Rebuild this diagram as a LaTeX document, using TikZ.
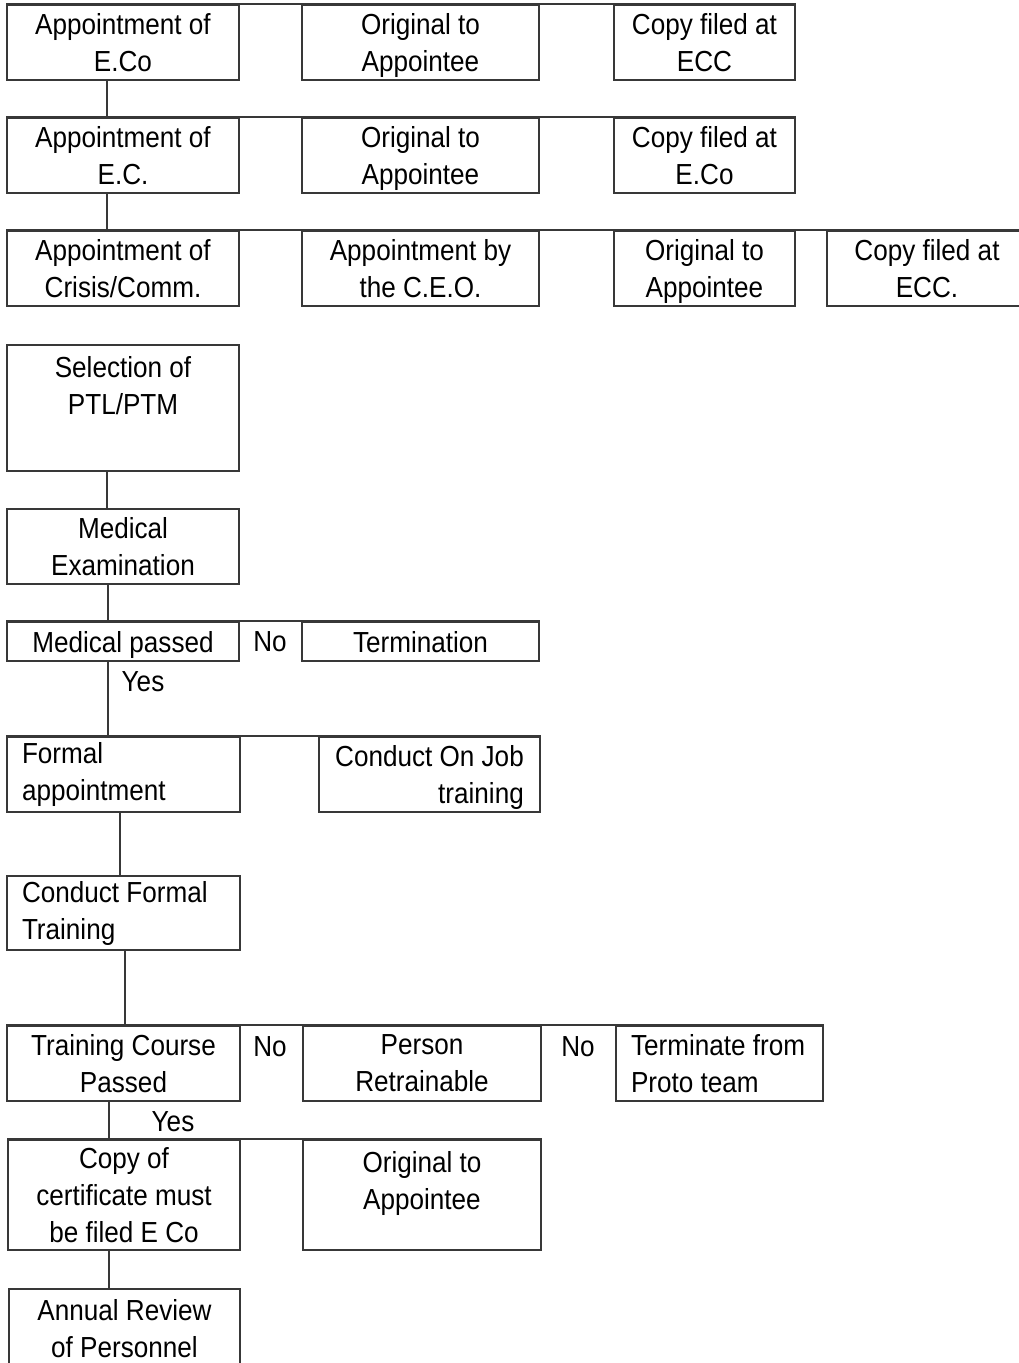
\documentclass[tikz,border=0pt]{standalone}
\usepackage{fontspec}
\setmainfont[FakeStretch=0.9]{Liberation Sans}
\newcommand\diagfont{\fontsize{29}{37}\selectfont}
\begin{document}
\begin{tikzpicture}[x=1pt,y=-1pt,
  box/.style={draw=black!78, line width=1.8pt, inner sep=0pt, align=center, font=\diagfont, text=black, text depth=0pt},
  lbox/.style={box, align=flush left, inner xsep=15pt, text depth=},
  rbox/.style={box, align=flush right},
  conn/.style={draw=black!78, line width=1.8pt},
  lab/.style={inner sep=0pt, font=\diagfont, text=black}]
\fill[white] (0,0) rectangle (1018,1363);
\useasboundingbox (0,0) rectangle (1018,1363);

% Row 1
\node[box, minimum width=232pt, minimum height=75pt] (a1) at (123,42.5) {Appointment of\\E.Co};
\node[box, minimum width=237pt, minimum height=75pt] (a2) at (420.5,42.5) {Original to\\Appointee};
\node[box, minimum width=181pt, minimum height=75pt] (a3) at (704.5,42.5) {Copy filed at\\ECC};
% Row 2
\node[box, minimum width=232pt, minimum height=75pt] (b1) at (123,155.5) {Appointment of\\E.C.};
\node[box, minimum width=237pt, minimum height=75pt] (b2) at (420.5,155.5) {Original to\\Appointee};
\node[box, minimum width=181pt, minimum height=75pt] (b3) at (704.5,155.5) {Copy filed at\\E.Co};
% Row 3
\node[box, minimum width=232pt, minimum height=75pt] (c1) at (123,268.5) {Appointment of\\Crisis/Comm.};
\node[box, minimum width=237pt, minimum height=75pt] (c2) at (420.5,268.5) {Appointment by\\the C.E.O.};
\node[box, minimum width=181pt, minimum height=75pt] (c3) at (704.5,268.5) {Original to\\Appointee};
\node[box, minimum width=200pt, minimum height=75pt] (c4) at (927,268.5) {Copy filed at\\ECC.};

% Selection chain
\node[box, minimum width=232pt, minimum height=126pt] (sel) at (123,408) {Selection of\\PTL/PTM\\[8pt]\mbox{}};
\node[box, minimum width=232pt, minimum height=75pt] (med) at (123,546.5) {Medical\\Examination};
\node[box, minimum width=232pt, minimum height=39pt] (mp) at (123,641.5) {Medical passed};
\node[box, minimum width=237pt, minimum height=39pt] (term) at (420.5,641.5) {Termination};
\node[lab] (no1) at (270,642) {No};
\node[lab] (yes1) at (143,682) {Yes};

\node[lbox, text width=203pt, minimum height=75pt] (fa) at (123.5,774.5) {Formal\\appointment};
\node[rbox, minimum width=221pt, minimum height=75pt] (oj) at (429.5,774.5) {Conduct On Job\\training};
\node[lbox, text width=203pt, minimum height=74pt] (cft) at (123.5,913) {Conduct Formal\\Training};

\node[box, minimum width=233pt, minimum height=75pt] (tcp) at (123.5,1063.5) {Training Course\\Passed};
\node[box, minimum width=238pt, minimum height=75pt] (pr) at (422,1063.5) {Person\\Retrainable};
\node[lbox, text width=177pt, minimum height=75pt] (tpt) at (719.5,1063.5) {Terminate from\\Proto team};
\node[lab] (no2) at (270,1047) {No};
\node[lab] (no3) at (578,1047) {No};
\node[lab] (yes2) at (173,1122) {Yes};

\node[box, minimum width=232pt, minimum height=110pt] (cop) at (124,1195) {Copy of\\certificate must\\be filed E Co};
\node[box, minimum width=238pt, minimum height=110pt] (orig) at (422,1195) {Original to\\Appointee\\[-8pt]\mbox{}};
\node[box, minimum width=231pt, minimum height=79pt] (ann) at (124.5,1328.5) {Annual Review\\of Personnel};

% Horizontal top lines joining each row
\draw[conn] (a1.north west) -- (a3.north east);
\draw[conn] (b1.north west) -- (b3.north east);
\draw[conn] (c1.north west) -- (c4.north east);
\draw[conn] (mp.north west) -- (term.north east);
\draw[conn] (fa.north west) -- (oj.north east);
\draw[conn] (tcp.north west) -- (tpt.north east);
\draw[conn] (cop.north west) -- (orig.north east);

% Vertical connectors
\draw[conn] ([xshift=-16pt]a1.south) -- ([xshift=-16pt]a1.south |- b1.north);
\draw[conn] ([xshift=-16pt]b1.south) -- ([xshift=-16pt]b1.south |- c1.north);
\draw[conn] ([xshift=-16pt]sel.south) -- ([xshift=-16pt]sel.south |- med.north);
\draw[conn] ([xshift=-15pt]med.south) -- ([xshift=-15pt]med.south |- mp.north);
\draw[conn] ([xshift=-15pt]mp.south) -- ([xshift=-15pt]mp.south |- fa.north);
\draw[conn] ([xshift=-3.5pt]fa.south) -- ([xshift=-3.5pt]fa.south |- cft.north);
\draw[conn] ([xshift=1.5pt]cft.south) -- ([xshift=1.5pt]cft.south |- tcp.north);
\draw[conn] ([xshift=-14.5pt]tcp.south) -- ([xshift=-14.5pt]tcp.south |- cop.north);
\draw[conn] ([xshift=-15pt]cop.south) -- ([xshift=-15pt]cop.south |- ann.north);
\end{tikzpicture}
\end{document}
